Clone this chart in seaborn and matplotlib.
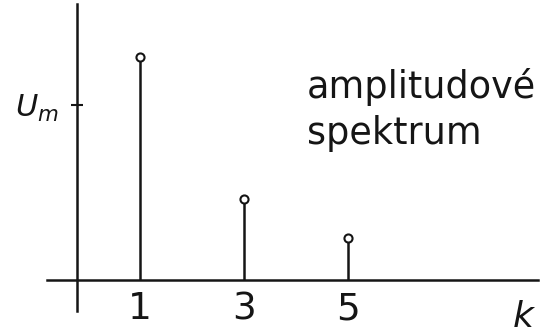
import matplotlib
matplotlib.use("Agg")
import matplotlib.pyplot as plt
import seaborn as sns
import pandas as pd

# Harmonic orders and their amplitudes (relative to U_m)
harmonics = [1, 3, 5]
amplitudes = [1.27, 0.464, 0.241]
x_tick_labels = ["1", "3", "5"]
y_tick_values = [1.0]
y_tick_labels = ["$U_m$"]

sns.set_style("white")
plt.rcParams["font.family"] = ["DejaVu Sans"]
plt.rcParams["mathtext.fontset"] = "custom"
plt.rcParams["mathtext.it"] = "DejaVu Sans:italic"
plt.rcParams["mathtext.rm"] = "DejaVu Sans"

INK = "#151515"

df = pd.DataFrame({"k": harmonics, "U": amplitudes})

fig = plt.figure(figsize=(5.44, 3.34), dpi=100)
ax = fig.add_axes([0, 0, 1, 1])
ax.set_xlim(-1.692, 8.77)
ax.set_ylim(-0.3077, 1.598)

# stems
ax.vlines(df["k"], 0, df["U"], colors=INK, linewidth=1.8, zorder=2)
# open circles at the tips
sns.scatterplot(data=df, x="k", y="U", ax=ax, s=34, marker="o",
                facecolor="white", edgecolor=INK, linewidth=1.5,
                zorder=3, legend=False)

# axes drawn as crossing lines
for side in ["top", "right"]:
    ax.spines[side].set_visible(False)
ax.spines["left"].set_position(("data", -0.216))
ax.spines["bottom"].set_position(("data", 0.0))
ax.spines["left"].set_bounds(-0.177, 1.573)
ax.spines["bottom"].set_bounds(-0.79, 8.65)
for side in ["left", "bottom"]:
    ax.spines[side].set_color(INK)
    ax.spines[side].set_linewidth(1.8)

ax.set_xticks(harmonics)
ax.set_xticklabels(x_tick_labels, fontsize=27, color=INK)
ax.tick_params(axis="x", bottom=False, length=0, pad=8)
ax.set_yticks(y_tick_values)
ax.set_yticklabels(y_tick_labels, fontsize=22, color=INK)
ax.tick_params(axis="y", left=True, direction="inout", length=8, width=1.5,
               color=INK, pad=9)
ax.set_xlabel("")
ax.set_ylabel("")

ax.text(0.961, 0.0, "k", transform=ax.transAxes, fontsize=26,
        style="italic", ha="center", va="bottom", color=INK)
ax.text(0.564, 1 - 98 / 334, "amplitudové", transform=ax.transAxes,
        fontsize=26.4, ha="left", va="baseline", color=INK)
ax.text(0.564, 1 - 144 / 334, "spektrum", transform=ax.transAxes,
        fontsize=26.4, ha="left", va="baseline", color=INK)

fig.savefig("out.png", dpi=100)
